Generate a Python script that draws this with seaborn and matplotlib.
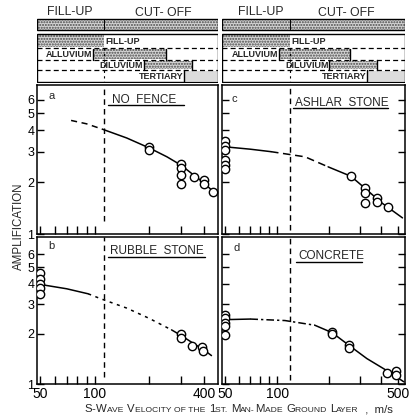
import numpy as np
import pandas as pd
import matplotlib
matplotlib.use("Agg")
import matplotlib.pyplot as plt
import matplotlib.transforms as mtransforms
import seaborn as sns
from matplotlib.patches import Rectangle
from matplotlib.ticker import FixedLocator, NullLocator, FixedFormatter, NullFormatter

# ---------------- data ----------------
# panel a : NO FENCE
a_pts_v = [200, 200, 300, 300, 300, 300, 354, 400, 400, 450]
a_pts_amp = [3.2, 3.05, 2.55, 2.4, 2.2, 1.95, 2.15, 2.05, 1.95, 1.75]
a_dash_v = [74, 90, 110]
a_dash_amp = [4.55, 4.35, 4.05]
a_solid_v = [110, 150, 200, 250, 300, 350, 400, 460]
a_solid_amp = [4.05, 3.6, 3.15, 2.8, 2.5, 2.2, 1.98, 1.72]

# panel b : RUBBLE STONE
b_pts_v = [50, 50, 50, 50, 50, 300, 300, 345, 390, 395]
b_pts_amp = [4.6, 4.25, 4.0, 3.75, 3.45, 2.0, 1.88, 1.7, 1.66, 1.58]
b_solid1_v = [50, 70, 92]
b_solid1_amp = [3.95, 3.72, 3.47]
b_dash_v = [92, 108, 150, 200, 265]
b_dash_amp = [3.47, 3.24, 2.85, 2.47, 2.11]
b_solid2_v = [265, 300, 350, 400, 440]
b_solid2_amp = [2.11, 1.95, 1.75, 1.6, 1.48]

# panel c : ASHLAR STONE
c_pts_v = [50, 50, 50, 50, 50, 50, 267, 322, 322, 322, 378, 378, 437]
c_pts_amp = [3.45, 3.25, 3.05, 2.7, 2.5, 2.38, 2.16, 1.84, 1.72, 1.52, 1.61, 1.54, 1.44]
c_solid1_v = [50, 70, 92]
c_solid1_amp = [3.2, 3.1, 3.0]
c_dash_v = [92, 145, 197]
c_dash_amp = [3.0, 2.8, 2.45]
c_solid2_v = [197, 267, 322, 400, 530]
c_solid2_amp = [2.45, 2.16, 1.84, 1.52, 1.24]

# panel d : CONCRETE
d_pts_v = [50, 50, 50, 50, 50, 208, 208, 261, 261, 432, 489, 489]
d_pts_amp = [2.58, 2.47, 2.32, 2.22, 1.97, 2.05, 1.98, 1.71, 1.65, 1.17, 1.2, 1.14]
d_solid1_v = [50, 70]
d_solid1_amp = [2.43, 2.45]
d_dash_v = [70, 111, 165]
d_dash_amp = [2.45, 2.4, 2.25]
d_solid2_v = [165, 208, 261, 330, 432, 540]
d_solid2_amp = [2.25, 2.03, 1.7, 1.42, 1.2, 1.03]

panel_letters = ["a", "b", "c", "d"]
panel_titles = ["NO  FENCE", "RUBBLE  STONE", "ASHLAR  STONE", "CONCRETE"]

# cut-off velocity (fill-up / cut-off boundary), left and right halves
cut_v = [112, 119]
# geology rows of the header: (alluvium from, to), (diluvium from, to), tertiary from
alluvium_range = [(98, 247), (102, 264)]
diluvium_range = [(187, 345), (200, 377)]
tertiary_from = [311, 330]
header_labels = ["FILL-UP", "CUT- OFF"]
header_label_v = [(73, 240), (80, 250)]
row_labels = ["FILL-UP", "ALLUVIUM", "DILUVIUM", "TERTIARY"]

left_xticks = [50, 60, 70, 80, 90, 100, 200, 300, 400]
left_xlabels = ["50", "", "", "", "", "100", "", "", "400"]
right_xticks = [50, 60, 70, 80, 90, 100, 200, 300, 400, 500]
right_xlabels = ["50", "", "", "", "", "100", "", "", "", "500"]
yticks = [1, 2, 3, 4, 5, 6]
ytick_labels = ["1", "2", "3", "4", "5", "6"]

# ---------------- figure ----------------
sns.set_theme(style="white")
plt.rcParams["font.family"] = ["Liberation Sans", "DejaVu Sans"]
plt.rcParams["hatch.linewidth"] = 1.0

W, H = 415, 419
fig = plt.figure(figsize=(W / 100, H / 100), dpi=100)


def pbox(x0, y0, x1, y1):
    return [x0 / W, 1 - y1 / H, (x1 - x0) / W, (y1 - y0) / H]


def ftext(x, y, s, **kw):
    return fig.text(x / W, 1 - y / H, s, **kw)


xlims = [(48, 478), (48, 548)]
boxes = {
    "a": (37, 85, 218, 234),
    "b": (37, 237, 218, 384),
    "c": (222, 85, 405, 234),
    "d": (222, 237, 405, 384),
}
ylims = {"a": (1, 7.3), "b": (1, 7.6), "c": (1, 7.3), "d": (1, 7.6)}

data = {
    "a": (a_pts_v, a_pts_amp, [(a_dash_v, a_dash_amp, (0, (4, 3)))],
          [(a_solid_v, a_solid_amp)]),
    "b": (b_pts_v, b_pts_amp, [(b_dash_v, b_dash_amp, (0, (2, 3)))],
          [(b_solid1_v, b_solid1_amp), (b_solid2_v, b_solid2_amp)]),
    "c": (c_pts_v, c_pts_amp, [(c_dash_v, c_dash_amp, (0, (5, 3)))],
          [(c_solid1_v, c_solid1_amp), (c_solid2_v, c_solid2_amp)]),
    "d": (d_pts_v, d_pts_amp, [(d_dash_v, d_dash_amp, (0, (5, 2, 1.5, 2)))],
          [(d_solid1_v, d_solid1_amp), (d_solid2_v, d_solid2_amp)]),
}
cut_bottom = {"a": 0.09, "b": 0.05, "c": 0.03, "d": 0.03}

axes = {}
for key in ["a", "b", "c", "d"]:
    side = 0 if key in "ab" else 1
    ax = fig.add_axes(pbox(*boxes[key]))
    axes[key] = ax
    ax.set_facecolor("white")
    pv, pa, dashed, solids = data[key]
    for (lv, la) in solids:
        sns.lineplot(x=lv, y=la, ax=ax, color="black", lw=1.1, sort=False,
                     estimator=None)
    for (lv, la, ls) in dashed:
        sns.lineplot(x=lv, y=la, ax=ax, color="black", lw=1.1, sort=False,
                     estimator=None, linestyle=ls)
    pts = pd.DataFrame({"v": pv, "amp": pa})
    sns.scatterplot(data=pts, x="v", y="amp", ax=ax, marker="o", s=36,
                    facecolor="white", edgecolor="black", linewidth=1.0,
                    zorder=5)
    ax.set_xscale("log")
    ax.set_yscale("log")
    ax.set_xlim(*xlims[side])
    ax.set_ylim(*ylims[key])
    ax.set_xlabel("")
    ax.set_ylabel("")
    # cut-off line
    trans = mtransforms.blended_transform_factory(ax.transData, ax.transAxes)
    ax.plot([cut_v[side], cut_v[side]], [cut_bottom[key], 1.0], transform=trans,
            color="black", lw=1.0, linestyle=(0, (4, 3)))
    # ticks
    xt = left_xticks if side == 0 else right_xticks
    xl = left_xlabels if side == 0 else right_xlabels
    ax.xaxis.set_major_locator(FixedLocator(xt))
    ax.xaxis.set_minor_locator(NullLocator())
    if key in "bd":
        ax.xaxis.set_major_formatter(FixedFormatter(xl))
    else:
        ax.xaxis.set_major_formatter(NullFormatter())
    ax.yaxis.set_major_locator(FixedLocator(yticks))
    ax.yaxis.set_minor_locator(NullLocator())
    if side == 0:
        ax.yaxis.set_major_formatter(FixedFormatter(ytick_labels))
        ax.tick_params(axis="y", which="both", left=True, right=False,
                       direction="in", length=5, width=1.0, pad=2,
                       labelsize=9, colors="black")
    else:
        ax.yaxis.set_major_formatter(NullFormatter())
        ax.tick_params(axis="y", which="both", left=True, right=True,
                       direction="in", length=5, width=1.0, colors="black")
    ax.tick_params(axis="x", which="both", bottom=True, top=False,
                   direction="in", length=5.5, width=1.0, pad=2,
                   labelsize=10, colors="black")
    for sp in ax.spines.values():
        sp.set_color("black")
        sp.set_linewidth(1.1)
    ax.grid(False)

# panel letters
ftext(52, 96, "a", fontsize=8, va="center", ha="center")
ftext(51, 246, "b", fontsize=8, va="center", ha="center")
ftext(234, 99, "c", fontsize=8, va="center", ha="center")
ftext(237, 248, "d", fontsize=8, va="center", ha="center")

# panel titles with underline
title_pos = {"a": (112, 100, 108, 184, 105), "b": (110, 251, 108, 205, 257),
             "c": (295, 103, 293, 388, 108.5), "d": (298, 256, 296, 362, 262)}
for key, title in zip(["a", "b", "c", "d"], panel_titles):
    tx, ty, u0, u1, uy = title_pos[key]
    ftext(tx, ty, title, fontsize=8.5, va="center", ha="left")
    fig.add_artist(plt.Line2D([u0 / W, u1 / W], [1 - uy / H, 1 - uy / H],
                              color="black", lw=1.0))


# ---------------- headers ----------------
def draw_header(side, x0p, x1p):
    hax = fig.add_axes(pbox(x0p, 0, x1p, 83))
    hax.set_xscale("log")
    lo, hi = xlims[side]
    hax.set_xlim(lo, hi)
    hax.set_ylim(83, 0)
    hax.axis("off")
    c = cut_v[side]
    stip = dict(facecolor="#d4d4d4", hatch="......", edgecolor="#4a4a4a", lw=0)
    # top labels
    hax.text(header_label_v[side][0], 12, header_labels[0], ha="center",
             va="center", fontsize=8.8)
    hax.text(header_label_v[side][1], 13, header_labels[1], ha="center",
             va="center", fontsize=8.8)
    # top bar
    hax.add_patch(Rectangle((lo, 19.5), hi - lo, 11, **stip))
    hax.add_patch(Rectangle((lo, 19.5), hi - lo, 11, fill=False,
                            edgecolor="black", lw=1.0))
    hax.plot([c, c], [19.5, 30.5], color="black", lw=0.7)
    # geology box
    hax.add_patch(Rectangle((lo, 35), c - lo, 12, **stip))
    hax.text(c * 1.02, 41.5, row_labels[0], ha="left", va="center",
             fontsize=6.5, fontweight="bold")
    a0, a1 = alluvium_range[side]
    hax.add_patch(Rectangle((a0, 49.5), a1 - a0, 10, **stip))
    for xx in (a0, a1):
        hax.plot([xx, xx], [49, 60], color="black", lw=1.0)
    hax.text(a0 * 0.99, 54.5, row_labels[1], ha="right", va="center",
             fontsize=6.5, fontweight="bold")
    d0, d1 = diluvium_range[side]
    hax.add_patch(Rectangle((d0, 61), d1 - d0, 8.5, **stip))
    for xx in (d0, d1):
        hax.plot([xx, xx], [60, 70], color="black", lw=1.0)
    hax.text(d0 * 0.99, 65.5, row_labels[2], ha="right", va="center",
             fontsize=6.5, fontweight="bold")
    t0 = tertiary_from[side]
    hax.add_patch(Rectangle((t0, 71), hi - t0, 10.5, facecolor="#dcdcdc",
                            lw=0))
    hax.plot([t0, t0], [70, 82], color="black", lw=1.0)
    hax.text(t0 * 0.99, 76.5, row_labels[3], ha="right", va="center",
             fontsize=6.5, fontweight="bold")
    for yy in (48, 60, 70):
        hax.plot([lo, hi], [yy, yy], color="black", lw=0.9,
                 linestyle=(0, (4, 2.5)))
    hax.plot([c, c], [48, 82], color="black", lw=0.8, linestyle=(0, (2, 3)))
    hax.add_patch(Rectangle((lo, 34), hi - lo, 48, fill=False,
                            edgecolor="black", lw=1.0))


draw_header(0, 37, 218)
draw_header(1, 222, 405)

# ---------------- axis titles ----------------
ftext(19, 226, "AMPLIFICATION", rotation=90, ha="center", va="center",
      fontsize=8.3)

renderer = fig.canvas.get_renderer()
big, small = 8.2, 6.1
xl_chunks = [("S", big), ("-", big), ("W", big), ("AVE ", small), ("V", big),
             ("ELOCITY ", small), ("OF THE ", small), ("1", big),
             ("ST. ", small), ("M", big), ("AN-", small), ("M", big),
             ("ADE ", small), ("G", big), ("ROUND ", small), ("L", big),
             ("AYER", small), ("  ,  m/s", big)]
xcur = 84.0
for txt, fs in xl_chunks:
    t = ftext(xcur, 412, txt, fontsize=fs, ha="left", va="baseline")
    bb = t.get_window_extent(renderer)
    xcur += bb.width + (0.8 if txt.endswith(" ") else 0.3)

fig.savefig("out.png", dpi=100, facecolor="white")
